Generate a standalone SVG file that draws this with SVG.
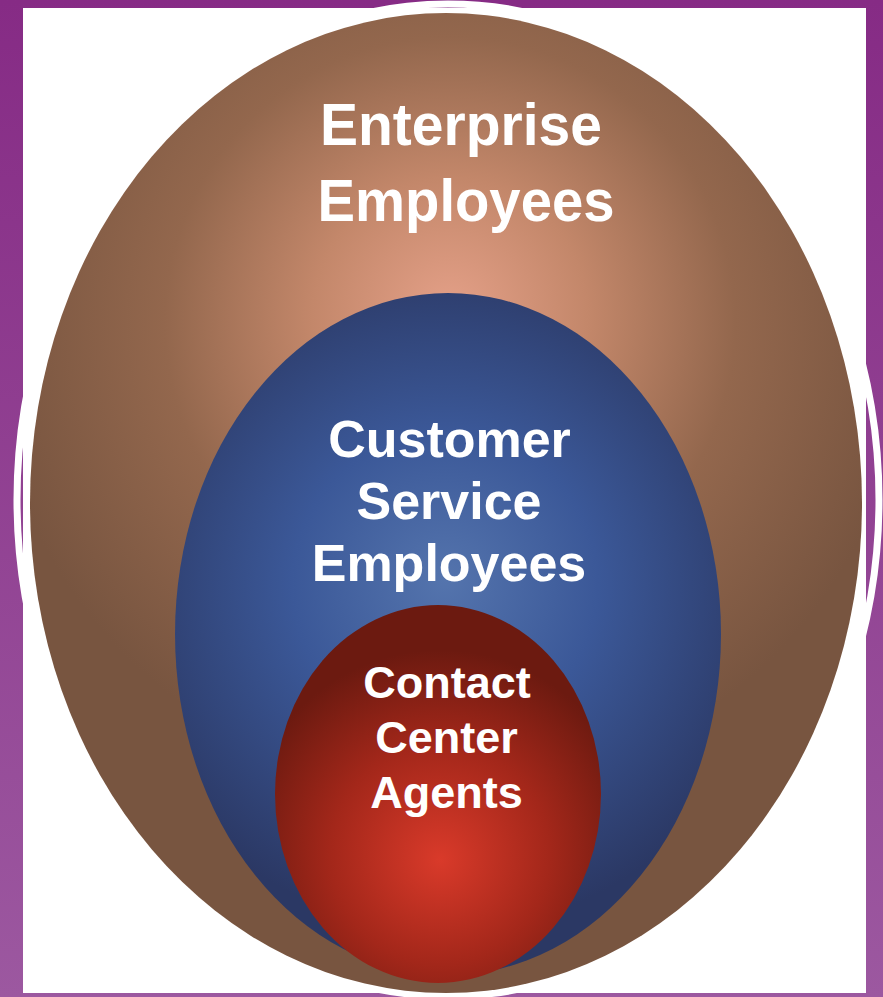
<svg xmlns="http://www.w3.org/2000/svg" width="883" height="997" viewBox="0 0 883 997">
  <defs>
    <linearGradient id="bgGrad" x1="0" y1="0" x2="0" y2="1">
      <stop offset="0" stop-color="#862b85"/>
      <stop offset="1" stop-color="#9c58a0"/>
    </linearGradient>
    <radialGradient id="brownGrad" gradientUnits="userSpaceOnUse" cx="450" cy="330" r="460" fx="450" fy="310">
      <stop offset="0" stop-color="#e4a088"/>
      <stop offset="0.3" stop-color="#c3876a"/>
      <stop offset="0.62" stop-color="#93674d"/>
      <stop offset="1" stop-color="#785540"/>
    </radialGradient>
    <radialGradient id="blueGrad" gradientUnits="userSpaceOnUse" cx="445" cy="590" r="340" fx="445" fy="580">
      <stop offset="0" stop-color="#5474ad"/>
      <stop offset="0.45" stop-color="#3b5898"/>
      <stop offset="1" stop-color="#2b3864"/>
    </radialGradient>
    <radialGradient id="redGrad" gradientUnits="userSpaceOnUse" cx="440" cy="850" r="200" fx="440" fy="860">
      <stop offset="0" stop-color="#d93a2a"/>
      <stop offset="0.55" stop-color="#a3271a"/>
      <stop offset="1" stop-color="#6c1a10"/>
    </radialGradient>
    <style>
      .lbl { font-family: "Liberation Sans", Arial, sans-serif; font-weight: bold; fill: #ffffff; text-anchor: middle; }
    </style>
  </defs>

  <g id="background">
    <rect x="0" y="0" width="883" height="997" fill="url(#bgGrad)"/>
    <ellipse cx="448" cy="500" rx="431" ry="496" fill="none" stroke="#ffffff" stroke-width="7"/>
    <rect x="23" y="8" width="843" height="985" fill="#ffffff"/>
  </g>

  <g id="enterprise">
    <ellipse cx="446" cy="503" rx="416" ry="490" fill="url(#brownGrad)"/>
    <text class="lbl" x="461" y="145" font-size="60" textLength="282" lengthAdjust="spacingAndGlyphs">Enterprise</text>
    <text class="lbl" x="466" y="221" font-size="60" textLength="297" lengthAdjust="spacingAndGlyphs">Employees</text>
  </g>

  <g id="customer-service">
    <ellipse cx="448" cy="634" rx="273" ry="341" fill="url(#blueGrad)"/>
    <text class="lbl" x="449.5" y="457" font-size="52">Customer</text>
    <text class="lbl" x="449" y="519" font-size="52">Service</text>
    <text class="lbl" x="449" y="581" font-size="52">Employees</text>
  </g>

  <g id="contact-center">
    <ellipse cx="438" cy="794" rx="163" ry="189" fill="url(#redGrad)"/>
    <text class="lbl" x="447" y="698" font-size="45">Contact</text>
    <text class="lbl" x="446.5" y="753" font-size="45">Center</text>
    <text class="lbl" x="446.5" y="808" font-size="45">Agents</text>
  </g>

  <g id="connectors"/>
</svg>
